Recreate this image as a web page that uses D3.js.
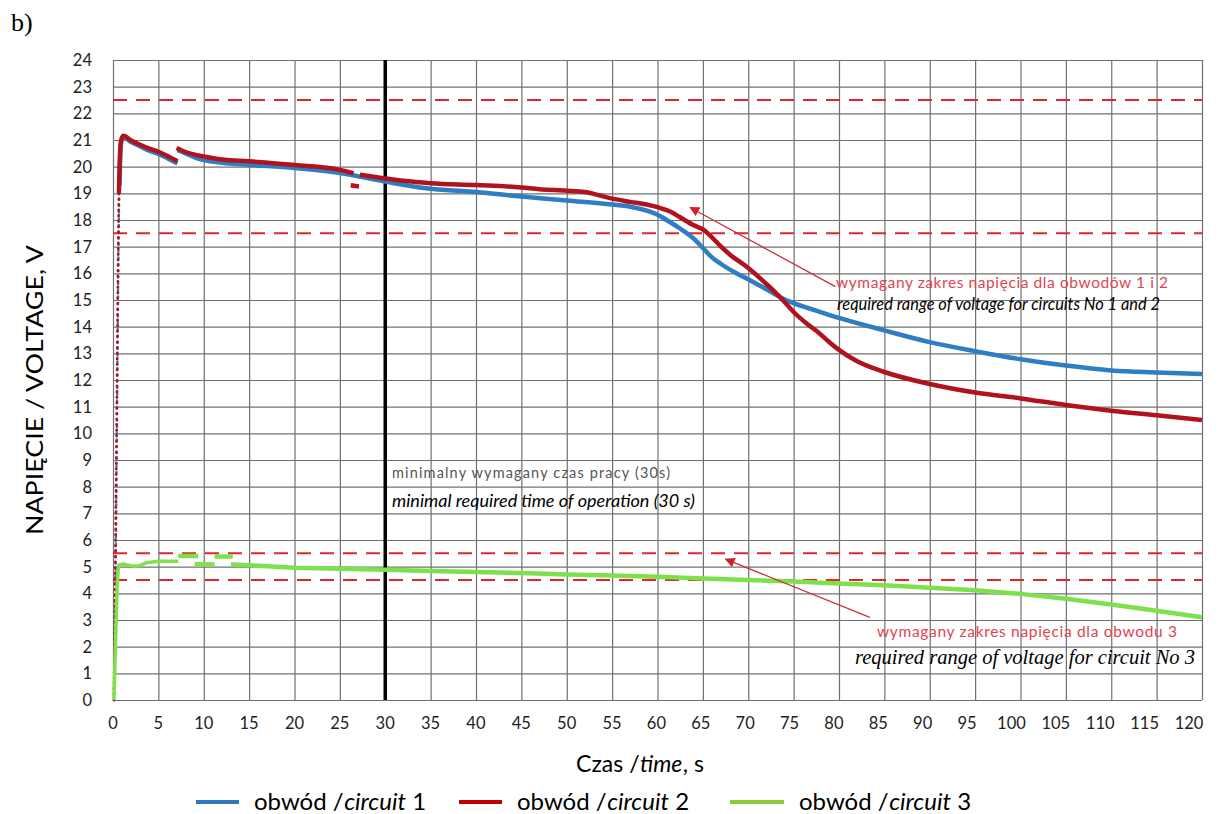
<!DOCTYPE html>
<html>
<head>
<meta charset="utf-8">
<script src="https://cdn.jsdelivr.net/npm/d3@7"></script>
<style>
  body { margin: 0; background: #fff; }
  svg { display: block; font-family: Lato, "Open Sans", sans-serif; }
</style>
</head>
<body>
<svg id="chart" width="1226" height="814"></svg>
<script>
// ---- data ----
const xTicks = d3.range(0, 121, 5);
const yTicks = d3.range(0, 25, 1);
const limitLines = [22.5, 17.5, 5.5, 4.5];
const minTime = 30;

const seriesNames = ['1', '2', '3'];
const seriesColors = ['#2f7dc2', '#b0121e', '#7ee04a'];
const legendColors = ['#2e78c0', '#c00000', '#8ccb3c'];

// circuit 1 (blue)
const c1Rise = [[0.15, 0], [0.3, 5], [0.45, 11], [0.6, 17], [0.7, 19.3]];
const c1SegA = [[0.7, 19.3], [0.8, 20.4], [0.95, 21.0], [1.2, 21.1], [2, 20.92], [3, 20.76], [4, 20.6], [5, 20.48], [6, 20.32], [7.1, 20.12]];
const c1SegB = [[7.1, 20.62], [8, 20.5], [9, 20.35], [10, 20.25], [12, 20.15], [15, 20.07], [20, 19.95], [25, 19.76], [30, 19.44],
  [35, 19.17], [40, 19.05], [45, 18.88], [50, 18.73], [55, 18.58], [57, 18.5], [59, 18.33], [60, 18.2], [61, 18.0], [62.4, 17.7],
  [64, 17.3], [65, 16.95], [66, 16.6], [67, 16.35], [68.7, 16.0], [70, 15.78], [72, 15.4], [73.8, 15.06], [75, 14.88], [77.5, 14.6],
  [80, 14.33], [85, 13.86], [90, 13.42], [95, 13.08], [100, 12.78], [105, 12.54], [110, 12.36], [115, 12.28], [120, 12.22]];

// circuit 2 (red)
const c2Rise = [[0.1, 0], [0.2, 3], [0.4, 10], [0.55, 16], [0.65, 19]];
const c2SegA = [[0.65, 19], [0.75, 20.3], [0.9, 21.0], [1.15, 21.16], [2, 20.98], [3, 20.82], [4, 20.68], [5, 20.56], [6, 20.4], [7.1, 20.2]];
const c2SegB = [[7.0, 20.7], [8, 20.55], [9, 20.45], [10, 20.38], [12, 20.27], [15, 20.2], [20, 20.06], [25, 19.88], [26.5, 19.76]];
const c2Blob = [[26.2, 19.3], [27.1, 19.26]];
const c2SegC = [[27.2, 19.7], [30, 19.56], [32, 19.47], [35, 19.38], [40, 19.31], [45, 19.22], [47, 19.15], [50, 19.1], [52, 19.05],
  [55, 18.8], [57, 18.68], [58.8, 18.58], [60, 18.48], [61.5, 18.3], [62.4, 18.12], [64, 17.8], [65, 17.65], [66, 17.35], [67, 17.0],
  [68, 16.7], [70, 16.2], [72, 15.6], [73.8, 15.0], [75, 14.55], [76.5, 14.1], [77.6, 13.82], [79, 13.4], [80, 13.13], [82, 12.7],
  [85, 12.3], [90, 11.85], [95, 11.53], [100, 11.31], [105, 11.06], [110, 10.85], [115, 10.68], [120, 10.5]];

// circuit 3 (green)
const c3SegA = [[0.1, 0], [0.3, 2.5], [0.45, 4.2], [0.6, 5.05], [1.1, 5.1], [2.2, 5.02], [2.9, 5.03], [3.7, 5.15], [5, 5.2], [7.2, 5.2]];
const c3SegB = [[7.2, 5.4], [9.4, 5.4]];
const c3SegC = [[9.0, 5.1], [11.2, 5.08]];
const c3SegD = [[11.2, 5.38], [13.2, 5.38]];
const c3SegE = [[13, 5.08], [15, 5.05], [20, 4.96], [25, 4.92], [30, 4.88], [35, 4.84], [40, 4.8], [45, 4.76], [50, 4.71], [55, 4.67],
  [60, 4.62], [65, 4.56], [70, 4.5], [75, 4.44], [80, 4.37], [85, 4.3], [90, 4.21], [95, 4.12], [100, 3.98], [105, 3.8], [110, 3.58],
  [115, 3.35], [120, 3.1]];

// annotation arrows: [from, to] in data units
const arrow12 = [[79.6, 15.5], [63.6, 18.47]];
const arrow3 = [[83.4, 3.1], [67.5, 5.28]];

// ---- chart ----
const svg = d3.select('#chart');
const x = d3.scaleLinear().domain([0, 120]).range([113, 1202]);
const y = d3.scaleLinear().domain([0, 24]).range([700, 60]);
// the x labels in the picture drift a little left of their grid lines on the right half
const xLabel = d3.scaleLinear().domain([0, 55, 120]).range([113, 612, 1189]);

const defs = svg.append('defs');
defs.append('marker')
  .attr('id', 'head')
  .attr('viewBox', '0 0 10 10')
  .attr('refX', 9).attr('refY', 5)
  .attr('markerWidth', 10).attr('markerHeight', 10)
  .attr('markerUnits', 'userSpaceOnUse')
  .attr('orient', 'auto')
  .append('path').attr('d', 'M0,0 L10,5 L0,10 z').attr('fill', '#d0202a');

// grid
svg.append('g')
  .attr('transform', 'translate(0,700)')
  .call(d3.axisBottom(x).tickValues(xTicks).tickSize(-640).tickFormat(''))
  .call(g => g.select('.domain').remove())
  .call(g => g.selectAll('line').attr('stroke', '#707070').attr('stroke-width', 1.2));

svg.append('g')
  .attr('transform', 'translate(113,0)')
  .call(d3.axisLeft(y).tickValues(yTicks).tickSize(-1089).tickFormat(''))
  .call(g => g.select('.domain').remove())
  .call(g => g.selectAll('line').attr('stroke', '#707070').attr('stroke-width', 1.2));

// tick labels
svg.append('g').selectAll('text')
  .data(yTicks).join('text')
  .attr('x', 92).attr('y', d => y(d) + 6)
  .attr('text-anchor', 'end')
  .attr('font-size', 16.5).attr('fill', '#222')
  .text(d => d);

svg.append('g').selectAll('text')
  .data(xTicks).join('text')
  .attr('x', d => xLabel(d)).attr('y', 729)
  .attr('text-anchor', 'middle')
  .attr('font-size', 16.5).attr('fill', '#222')
  .text(d => d);

// limit lines
svg.append('g').selectAll('line')
  .data(limitLines).join('line')
  .attr('x1', x(0)).attr('x2', x(120))
  .attr('y1', d => y(d)).attr('y2', d => y(d))
  .attr('stroke', '#e0262b').attr('stroke-width', 2)
  .attr('stroke-dasharray', '14,9');

// minimal time line
svg.append('line')
  .attr('x1', x(minTime)).attr('x2', x(minTime))
  .attr('y1', y(24)).attr('y2', y(0))
  .attr('stroke', '#000').attr('stroke-width', 3.5);

// curves
const line = d3.line().x(d => x(d[0])).y(d => y(d[1])).curve(d3.curveMonotoneX);
const lineRise = d3.line().x(d => x(d[0])).y(d => y(d[1]));

function drawSeg(data, color, width, dash, gen) {
  svg.append('path')
    .datum(data)
    .attr('d', gen || line)
    .attr('fill', 'none')
    .attr('stroke', color)
    .attr('stroke-width', width)
    .attr('stroke-linecap', dash ? 'round' : 'butt')
    .attr('stroke-linejoin', 'round')
    .attr('stroke-dasharray', dash || null);
}

drawSeg(c1Rise, seriesColors[0], 2.5, '0.5,6', lineRise);
[c1SegA, c1SegB].forEach(s => drawSeg(s, seriesColors[0], 4.5));

drawSeg(c2Rise, seriesColors[1], 2.8, '0.5,5', lineRise);
[c2SegA, c2SegB, c2SegC].forEach(s => drawSeg(s, seriesColors[1], 4.5));
drawSeg(c2Blob, seriesColors[1], 4.5, null, lineRise);

drawSeg(c3SegA, seriesColors[2], 3.5, null, lineRise);
[c3SegB, c3SegC, c3SegD, c3SegE].forEach(s => drawSeg(s, seriesColors[2], 4.5, null, lineRise));

// arrows
[arrow12, arrow3].forEach(a => {
  svg.append('line')
    .attr('x1', x(a[0][0])).attr('y1', y(a[0][1]))
    .attr('x2', x(a[1][0])).attr('y2', y(a[1][1]))
    .attr('stroke', '#c8323a').attr('stroke-width', 1.3)
    .attr('marker-end', 'url(#head)');
});

// annotation texts
svg.append('text')
  .attr('x', 836).attr('y', 288)
  .attr('font-size', 15.5).attr('fill', '#e0454f')
  .attr('textLength', 332).attr('lengthAdjust', 'spacing')
  .text('wymagany zakres napięcia dla obwodów 1 i 2');
svg.append('text')
  .attr('x', 837).attr('y', 310)
  .attr('font-size', 18).attr('font-style', 'italic').attr('fill', '#000')
  .attr('textLength', 323).attr('lengthAdjust', 'spacingAndGlyphs')
  .text('required range of voltage for circuits No 1 and 2');

svg.append('text')
  .attr('x', 392).attr('y', 478)
  .attr('font-size', 14.5).attr('fill', '#555')
  .attr('textLength', 278).attr('lengthAdjust', 'spacing')
  .text('minimalny wymagany czas pracy (30s)');
svg.append('text')
  .attr('x', 392).attr('y', 507)
  .attr('font-size', 18).attr('font-style', 'italic').attr('fill', '#000')
  .attr('textLength', 303).attr('lengthAdjust', 'spacingAndGlyphs')
  .text('minimal required time of operation (30 s)');

svg.append('text')
  .attr('x', 877).attr('y', 637)
  .attr('font-size', 15.5).attr('fill', '#e0454f')
  .attr('textLength', 300).attr('lengthAdjust', 'spacing')
  .text('wymagany zakres napięcia dla obwodu 3');
svg.append('text')
  .attr('x', 855).attr('y', 664)
  .attr('font-family', '"Liberation Serif", serif')
  .attr('font-size', 22).attr('font-style', 'italic').attr('fill', '#000')
  .attr('textLength', 340).attr('lengthAdjust', 'spacingAndGlyphs')
  .text('required range of voltage for circuit  No 3');

// panel letter
svg.append('text')
  .attr('x', 11).attr('y', 31)
  .attr('font-family', '"Liberation Serif", serif')
  .attr('font-size', 26).attr('fill', '#000')
  .text('b)');

// axis titles
svg.append('text')
  .attr('transform', 'translate(43,390) rotate(-90)')
  .attr('text-anchor', 'middle')
  .attr('font-size', 23).attr('fill', '#000')
  .attr('textLength', 290).attr('lengthAdjust', 'spacingAndGlyphs')
  .text('NAPIĘCIE / VOLTAGE, V');

const xTitle = svg.append('text')
  .attr('x', 640).attr('y', 772)
  .attr('text-anchor', 'middle')
  .attr('font-size', 23).attr('fill', '#000');
xTitle.append('tspan').text('Czas /');
xTitle.append('tspan').attr('dx', 0.5).attr('font-style', 'italic').text('time');
xTitle.append('tspan').attr('dx', 0.5).text(', s');

// legend
const legendX = [196, 459, 730];
const legendW = [43, 43, 54];
const legend = svg.append('g').selectAll('g')
  .data(seriesNames).join('g')
  .attr('transform', (d, i) => `translate(${legendX[i]},802)`);
legend.append('line')
  .attr('x1', 0).attr('x2', (d, i) => legendW[i])
  .attr('stroke', (d, i) => legendColors[i]).attr('stroke-width', 4);
const lt = legend.append('text')
  .attr('x', (d, i) => legendW[i] + 15).attr('y', 8)
  .attr('font-size', 24).attr('fill', '#000');
lt.append('tspan').text('obwód /');
lt.append('tspan').attr('dx', 0.5).attr('font-style', 'italic').text('circuit');
lt.append('tspan').text(d => ' ' + d);
</script>
</body>
</html>
